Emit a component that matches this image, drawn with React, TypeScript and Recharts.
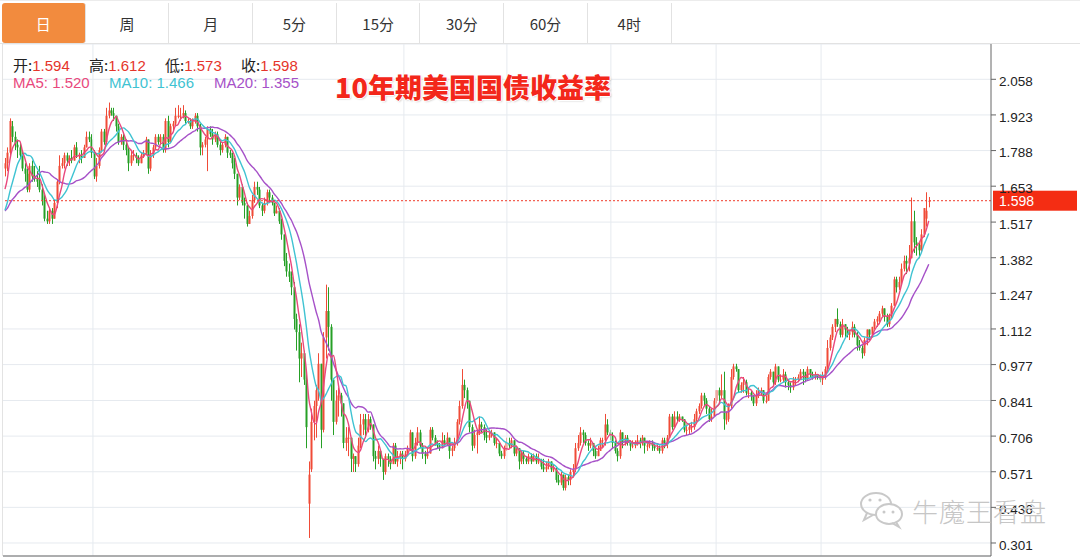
import React from 'react';
import { ComposedChart, Bar, Line, XAxis, YAxis, CartesianGrid, ReferenceLine } from 'recharts';

const tabLabels = ['日', '周', '月', '5分', '15分', '30分', '60分', '4时'];
const ohlcLabels = ['开', '高', '低', '收'];
const ohlcValues = ['1.594', '1.612', '1.573', '1.598'];
const maLegend = ['MA5: 1.520', 'MA10: 1.466', 'MA20: 1.355'];
const title = '10年期美国国债收益率';
const watermark = '牛魔王看盘';
const yTicks = [0.301, 0.436, 0.571, 0.706, 0.841, 0.977, 1.112, 1.247, 1.382, 1.517, 1.653, 1.788, 1.923, 2.058];
const lastPrice = 1.598;
const gridX = [35.6, 161.5, 203.2, 245.3, 287.9, 330.4];

// closes before the first visible candle (for moving averages)
const priorCloses = [1.58, 1.53, 1.55, 1.60, 1.55, 1.59, 1.62, 1.52, 1.54, 1.49, 1.47, 1.50, 1.50, 1.47, 1.47, 1.57, 1.55, 1.63, 1.72];

// [open, high, low, close]
const sep2019 = [
  [1.72,1.76,1.69,1.74],[1.74,1.80,1.71,1.78],[1.78,1.91,1.77,1.90],[1.88,1.90,1.82,1.84],[1.84,1.86,1.79,1.81],
  [1.81,1.83,1.76,1.80],[1.80,1.82,1.76,1.77],[1.77,1.79,1.71,1.72],[1.72,1.74,1.67,1.70],[1.70,1.72,1.63,1.64],
  [1.64,1.74,1.63,1.73],[1.73,1.75,1.67,1.69],[1.69,1.73,1.67,1.68],[1.68,1.71,1.65,1.67],
];
const oct2019 = [
  [1.67,1.73,1.63,1.64],[1.64,1.66,1.58,1.60],[1.60,1.62,1.52,1.53],[1.53,1.56,1.51,1.52],[1.52,1.57,1.51,1.56],
  [1.56,1.57,1.51,1.53],[1.53,1.60,1.53,1.59],[1.59,1.68,1.57,1.67],[1.67,1.77,1.66,1.73],[1.73,1.76,1.72,1.74],
  [1.74,1.78,1.72,1.77],[1.77,1.78,1.73,1.75],[1.75,1.77,1.73,1.76],[1.76,1.79,1.74,1.75],[1.75,1.81,1.75,1.80],
  [1.80,1.82,1.76,1.77],[1.77,1.78,1.74,1.77],[1.77,1.79,1.74,1.76],[1.76,1.81,1.76,1.80],[1.80,1.86,1.80,1.84],
  [1.84,1.86,1.82,1.83],[1.83,1.85,1.76,1.78],[1.78,1.79,1.68,1.69],
];
const nov2019 = [
  [1.69,1.76,1.67,1.73],[1.73,1.80,1.72,1.79],[1.79,1.87,1.78,1.86],[1.86,1.87,1.81,1.82],[1.82,1.95,1.81,1.92],
  [1.92,1.97,1.91,1.94],[1.94,1.95,1.92,1.93],[1.93,1.95,1.90,1.92],[1.92,1.92,1.86,1.88],[1.88,1.89,1.81,1.82],
  [1.82,1.85,1.81,1.84],[1.84,1.85,1.79,1.81],[1.81,1.83,1.77,1.79],[1.79,1.80,1.71,1.74],[1.74,1.79,1.73,1.77],
  [1.77,1.79,1.75,1.77],[1.77,1.78,1.74,1.76],[1.76,1.77,1.73,1.74],[1.74,1.78,1.74,1.77],[1.77,1.79,1.76,1.78],
];
const dec2019 = [
  [1.78,1.84,1.77,1.83],[1.83,1.83,1.70,1.72],[1.72,1.79,1.71,1.77],[1.77,1.81,1.76,1.80],[1.80,1.85,1.79,1.84],
  [1.84,1.85,1.81,1.82],[1.82,1.85,1.81,1.84],[1.84,1.85,1.78,1.79],[1.79,1.91,1.78,1.90],[1.90,1.92,1.80,1.82],
  [1.82,1.89,1.82,1.88],[1.88,1.90,1.86,1.89],[1.89,1.95,1.88,1.92],[1.92,1.96,1.91,1.92],[1.92,1.95,1.90,1.92],
  [1.92,1.96,1.91,1.93],[1.93,1.94,1.89,1.90],[1.90,1.91,1.89,1.90],[1.90,1.91,1.87,1.88],[1.88,1.91,1.87,1.90],
  [1.90,1.93,1.89,1.92],
];
const jan2020 = [
  [1.92,1.93,1.86,1.88],[1.88,1.89,1.77,1.80],[1.80,1.82,1.77,1.81],[1.81,1.84,1.80,1.83],[1.83,1.88,1.71,1.87],
  [1.87,1.88,1.84,1.85],[1.85,1.87,1.81,1.83],[1.83,1.86,1.82,1.85],[1.85,1.86,1.80,1.81],[1.81,1.82,1.77,1.79],
  [1.79,1.82,1.78,1.81],[1.81,1.85,1.80,1.84],[1.84,1.84,1.76,1.78],[1.78,1.79,1.76,1.77],[1.77,1.78,1.72,1.74],
  [1.74,1.76,1.68,1.70],[1.70,1.70,1.58,1.61],[1.61,1.66,1.60,1.65],[1.65,1.66,1.58,1.59],[1.59,1.61,1.53,1.58],
  [1.58,1.59,1.50,1.51],
];
const feb2020 = [
  [1.51,1.56,1.51,1.54],[1.54,1.62,1.53,1.60],[1.60,1.67,1.59,1.65],[1.65,1.67,1.62,1.64],[1.64,1.65,1.57,1.58],
  [1.58,1.59,1.54,1.56],[1.56,1.61,1.55,1.59],[1.59,1.64,1.58,1.63],[1.63,1.64,1.59,1.61],[1.61,1.62,1.58,1.59],
  [1.59,1.59,1.54,1.55],[1.55,1.58,1.55,1.56],[1.56,1.57,1.51,1.52],[1.52,1.53,1.45,1.47],[1.47,1.47,1.35,1.37],
  [1.37,1.40,1.31,1.33],[1.33,1.36,1.29,1.31],[1.31,1.33,1.24,1.27],[1.27,1.29,1.11,1.15],
];
const mar2020 = [
  [1.15,1.17,1.03,1.10],[1.10,1.13,0.91,1.00],[1.00,1.06,0.93,1.02],[1.02,1.03,0.90,0.92],[0.92,0.94,0.66,0.74],
  [0.45,0.61,0.32,0.56],[0.58,0.81,0.57,0.76],[0.76,0.84,0.69,0.82],[0.82,0.90,0.70,0.88],[0.88,1.02,0.84,0.98],
  [0.98,0.98,0.66,0.73],[0.73,1.10,0.72,1.08],[1.08,1.28,1.00,1.18],[1.18,1.27,1.03,1.12],[1.12,1.13,0.84,0.92],
  [0.92,0.92,0.71,0.76],[0.76,0.88,0.75,0.84],[0.84,0.89,0.78,0.86],[0.86,0.87,0.78,0.83],[0.83,0.83,0.66,0.68],
  [0.68,0.74,0.65,0.70],[0.70,0.74,0.63,0.70],
];
const apr2020 = [
  [0.70,0.70,0.57,0.62],[0.62,0.64,0.57,0.63],[0.63,0.63,0.57,0.60],[0.60,0.70,0.59,0.67],[0.67,0.79,0.66,0.75],
  [0.75,0.79,0.71,0.77],[0.77,0.79,0.70,0.73],[0.73,0.79,0.72,0.77],[0.77,0.78,0.73,0.75],[0.75,0.75,0.61,0.63],
  [0.63,0.65,0.58,0.62],[0.62,0.67,0.60,0.65],[0.65,0.65,0.59,0.62],[0.62,0.62,0.54,0.57],[0.57,0.64,0.56,0.63],
  [0.63,0.64,0.59,0.62],[0.62,0.63,0.58,0.60],[0.60,0.68,0.60,0.67],[0.67,0.68,0.60,0.61],[0.61,0.65,0.59,0.63],
  [0.63,0.65,0.60,0.64],
];
const may2020 = [
  [0.64,0.65,0.58,0.62],[0.62,0.65,0.61,0.64],[0.64,0.67,0.63,0.66],[0.66,0.73,0.65,0.72],[0.72,0.72,0.61,0.63],
  [0.63,0.70,0.62,0.68],[0.68,0.74,0.67,0.72],[0.72,0.73,0.66,0.67],[0.67,0.68,0.62,0.64],[0.64,0.65,0.60,0.63],
  [0.63,0.66,0.62,0.64],[0.64,0.74,0.64,0.73],[0.73,0.74,0.69,0.70],[0.70,0.71,0.67,0.68],[0.68,0.69,0.66,0.67],
  [0.67,0.68,0.65,0.66],[0.66,0.72,0.66,0.69],[0.69,0.71,0.67,0.68],[0.68,0.72,0.67,0.70],[0.70,0.70,0.62,0.65],
];
const jun2020 = [
  [0.65,0.67,0.63,0.66],[0.66,0.70,0.65,0.68],[0.68,0.77,0.67,0.76],[0.76,0.84,0.75,0.82],[0.82,0.96,0.81,0.90],
  [0.90,0.92,0.85,0.88],[0.88,0.89,0.81,0.84],[0.84,0.84,0.72,0.74],[0.74,0.75,0.65,0.67],[0.67,0.73,0.66,0.71],
  [0.71,0.73,0.64,0.72],[0.72,0.78,0.71,0.75],[0.75,0.76,0.72,0.74],[0.74,0.75,0.69,0.71],[0.71,0.73,0.68,0.70],
  [0.70,0.72,0.69,0.71],[0.71,0.73,0.70,0.72],[0.72,0.72,0.67,0.68],[0.68,0.70,0.66,0.68],[0.68,0.68,0.63,0.64],
  [0.64,0.65,0.62,0.63],[0.63,0.67,0.62,0.66],
];
const jul2020 = [
  [0.66,0.70,0.65,0.68],[0.68,0.70,0.66,0.67],[0.67,0.70,0.66,0.69],[0.69,0.69,0.63,0.64],[0.64,0.67,0.63,0.66],
  [0.66,0.66,0.58,0.61],[0.61,0.65,0.60,0.64],[0.64,0.65,0.60,0.62],[0.62,0.63,0.60,0.61],[0.61,0.64,0.60,0.63],
  [0.63,0.64,0.60,0.61],[0.61,0.64,0.61,0.63],[0.63,0.64,0.60,0.61],[0.61,0.64,0.60,0.61],[0.61,0.62,0.58,0.59],
  [0.59,0.62,0.57,0.58],[0.58,0.61,0.57,0.59],[0.59,0.62,0.58,0.61],[0.61,0.61,0.57,0.58],[0.58,0.60,0.57,0.58],
  [0.58,0.59,0.53,0.54],[0.54,0.56,0.52,0.53],
];
const aug2020 = [
  [0.53,0.57,0.52,0.56],[0.56,0.56,0.50,0.51],[0.51,0.56,0.50,0.55],[0.55,0.56,0.52,0.54],[0.54,0.58,0.52,0.57],
  [0.57,0.60,0.55,0.58],[0.58,0.68,0.57,0.66],[0.66,0.71,0.65,0.68],[0.68,0.74,0.67,0.72],[0.72,0.73,0.68,0.71],
  [0.71,0.72,0.67,0.68],[0.68,0.69,0.65,0.67],[0.67,0.70,0.66,0.68],[0.68,0.68,0.63,0.65],[0.65,0.66,0.62,0.63],
  [0.63,0.67,0.63,0.65],[0.65,0.70,0.65,0.69],[0.69,0.70,0.66,0.69],[0.69,0.79,0.67,0.75],[0.75,0.77,0.71,0.72],
  [0.72,0.73,0.69,0.71],
];
const sep2020 = [
  [0.71,0.72,0.66,0.68],[0.68,0.69,0.64,0.65],[0.65,0.66,0.61,0.63],[0.63,0.73,0.62,0.72],[0.72,0.72,0.66,0.68],
  [0.68,0.71,0.67,0.70],[0.70,0.71,0.67,0.68],[0.68,0.69,0.65,0.67],[0.67,0.69,0.66,0.67],[0.67,0.69,0.66,0.68],
  [0.68,0.71,0.67,0.69],[0.69,0.70,0.66,0.68],[0.68,0.71,0.67,0.70],[0.70,0.70,0.64,0.67],[0.67,0.68,0.65,0.67],
  [0.67,0.69,0.66,0.68],[0.68,0.69,0.65,0.67],[0.67,0.68,0.65,0.66],[0.66,0.68,0.65,0.66],[0.66,0.67,0.64,0.65],
  [0.65,0.70,0.64,0.69],
];
const oct2020 = [
  [0.69,0.70,0.66,0.68],[0.68,0.71,0.66,0.70],[0.70,0.79,0.70,0.78],[0.78,0.79,0.73,0.74],[0.74,0.80,0.74,0.78],
  [0.78,0.80,0.76,0.77],[0.77,0.79,0.76,0.78],[0.78,0.78,0.76,0.77],[0.77,0.77,0.72,0.73],[0.73,0.75,0.71,0.73],
  [0.73,0.75,0.71,0.74],[0.74,0.76,0.72,0.74],[0.74,0.79,0.73,0.77],[0.77,0.81,0.76,0.80],[0.80,0.83,0.79,0.82],
  [0.82,0.87,0.81,0.86],[0.86,0.87,0.82,0.84],[0.84,0.85,0.79,0.81],[0.81,0.82,0.76,0.77],[0.77,0.81,0.76,0.78],
  [0.78,0.85,0.78,0.84],[0.84,0.88,0.83,0.88],
];
const nov2020 = [
  [0.88,0.89,0.83,0.86],[0.86,0.94,0.85,0.88],[0.88,0.95,0.73,0.77],[0.77,0.80,0.75,0.77],[0.77,0.83,0.76,0.82],
  [0.82,0.96,0.81,0.93],[0.93,0.98,0.92,0.97],[0.97,0.98,0.95,0.96],[0.96,0.96,0.87,0.88],[0.88,0.91,0.87,0.90],
  [0.90,0.93,0.87,0.91],[0.91,0.92,0.86,0.87],[0.87,0.89,0.85,0.87],[0.87,0.88,0.84,0.86],[0.86,0.86,0.82,0.83],
  [0.83,0.88,0.82,0.86],[0.86,0.89,0.85,0.88],[0.88,0.89,0.86,0.88],[0.88,0.88,0.83,0.84],[0.84,0.86,0.83,0.84],
];
const dec2020 = [
  [0.84,0.94,0.84,0.93],[0.93,0.96,0.92,0.95],[0.95,0.95,0.90,0.91],[0.91,0.98,0.90,0.97],[0.97,0.97,0.91,0.92],
  [0.92,0.94,0.91,0.92],[0.92,0.96,0.91,0.94],[0.94,0.95,0.89,0.91],[0.91,0.92,0.88,0.90],[0.90,0.91,0.87,0.89],
  [0.89,0.93,0.88,0.92],[0.92,0.93,0.90,0.92],[0.92,0.94,0.91,0.93],[0.93,0.96,0.92,0.95],[0.95,0.96,0.90,0.94],
  [0.94,0.95,0.91,0.92],[0.92,0.97,0.92,0.96],[0.96,0.96,0.93,0.94],[0.94,0.95,0.92,0.93],[0.93,0.95,0.92,0.94],
  [0.94,0.94,0.92,0.93],[0.93,0.94,0.91,0.92],
];
const jan2021 = [
  [0.92,0.95,0.90,0.93],[0.93,0.97,0.92,0.96],[0.96,1.07,0.95,1.04],[1.04,1.09,1.03,1.08],[1.08,1.13,1.07,1.12],
  [1.12,1.15,1.10,1.15],[1.15,1.19,1.12,1.13],[1.13,1.14,1.08,1.09],[1.09,1.15,1.08,1.13],[1.13,1.13,1.08,1.11],
  [1.11,1.12,1.08,1.09],[1.09,1.11,1.07,1.10],[1.10,1.14,1.08,1.12],[1.12,1.13,1.08,1.09],[1.09,1.10,1.03,1.05],
  [1.05,1.07,1.03,1.04],[1.04,1.05,1.00,1.02],[1.02,1.08,1.01,1.07],[1.07,1.11,1.05,1.11],
];
const feb2021 = [
  [1.11,1.11,1.07,1.09],[1.09,1.12,1.08,1.12],[1.12,1.15,1.11,1.14],[1.14,1.16,1.12,1.15],[1.15,1.18,1.13,1.17],
  [1.17,1.20,1.16,1.19],[1.19,1.19,1.14,1.16],[1.16,1.17,1.12,1.13],[1.13,1.17,1.12,1.16],[1.16,1.21,1.15,1.20],
  [1.20,1.31,1.20,1.30],[1.30,1.31,1.25,1.27],[1.27,1.31,1.26,1.29],[1.29,1.36,1.28,1.34],[1.34,1.39,1.33,1.37],
  [1.37,1.39,1.32,1.36],[1.36,1.43,1.33,1.38],[1.38,1.61,1.38,1.52],[1.52,1.56,1.40,1.44],
];
const mar2021 = [
  [1.44,1.46,1.39,1.43],[1.43,1.44,1.38,1.41],[1.41,1.49,1.40,1.47],[1.47,1.57,1.46,1.57],[1.53,1.63,1.50,1.56],
  [1.594,1.612,1.573,1.598],
];

const months = [sep2019, oct2019, nov2019, dec2019, jan2020, feb2020, mar2020, apr2020, may2020, jun2020,
  jul2020, aug2020, sep2020, oct2020, nov2020, dec2020, jan2021, feb2021, mar2021];
const ohlc = months.flat();
const allCloses = priorCloses.concat(ohlc.map((d) => d[3]));
const P = priorCloses.length;
const movingAvg = (n: number, i: number) => {
  const end = i + P;
  const start = end - n + 1;
  if (start < 0) return null;
  let s = 0;
  for (let k = start; k <= end; k++) s += allCloses[k];
  return s / n;
};
const data = ohlc.map((d, i) => ({
  i, o: d[0], h: d[1], l: d[2], c: d[3], range: [d[2], d[1]],
  ma5: movingAvg(5, i), ma10: movingAvg(10, i), ma20: movingAvg(20, i),
}));

const RED = '#f04b37';
const GREEN = '#26a026';
const MA5C = '#e9487d';
const MA10C = '#3fc3d2';
const MA20C = '#a651c8';
const GRID = '#e6eaef';
const FONT = '"Liberation Sans", Arial, "Noto Sans CJK SC", sans-serif';
const CJK = '"Noto Sans CJK SC", "Liberation Sans", sans-serif';

const Candle = (props: any) => {
  const { x, y, width, height, payload } = props;
  if (!payload || x == null) return null;
  const { o, h, l, c } = payload;
  const top = Math.min(y, y + height);
  const span = Math.abs(height);
  const k = h > l ? span / (h - l) : 0;
  const cx = Math.round(x + width / 2) + 0.5;
  const yO = top + (h - o) * k;
  const yC = top + (h - c) * k;
  const color = c >= o ? RED : GREEN;
  const bTop = Math.min(yO, yC);
  const bH = Math.max(Math.abs(yO - yC), 1);
  return (
    <g>
      <line x1={cx} x2={cx} y1={top} y2={top + Math.max(span, 1)} stroke={color} strokeWidth={1} />
      <rect x={cx - 1} y={bTop} width={2} height={bH} fill={color} />
    </g>
  );
};

const YTick = (props: any) => {
  const { x, y, payload } = props;
  return (
    <text x={x} y={y + 2} dy="0.355em" textAnchor="start" fontSize={13.5} fill="#222" fontFamily={FONT}>
      {Number(payload.value).toFixed(3)}
    </text>
  );
};

const PriceTag = (props: any) => {
  const vb = props.viewBox || {};
  const x = (vb.x || 0) + (vb.width || 0);
  const y = vb.y || 0;
  return (
    <g>
      <rect x={x + 2} y={y - 10} width={84} height={20} fill="#f42d13" />
      <text x={x + 8} y={y + 5} fill="#fff" fontSize={14} fontFamily={FONT}>{lastPrice.toFixed(3)}</text>
    </g>
  );
};

const WeChatIcon = () => (
  <svg width={50} height={40} style={{ position: 'absolute', left: 858, top: 490 }}>
    <ellipse cx={18} cy={14} rx={15} ry={11} fill="none" stroke="#c9c9c9" strokeWidth={2} />
    <path d="M9 23 L6 30 L15 25" fill="none" stroke="#c9c9c9" strokeWidth={2} />
    <ellipse cx={31} cy={24} rx={13} ry={10} fill="#fff" stroke="#c9c9c9" strokeWidth={2} />
    <path d="M38 32 L41 37 L34 33" fill="none" stroke="#c9c9c9" strokeWidth={2} />
    <circle cx={12} cy={10} r={1.6} fill="#c9c9c9" />
    <circle cx={22} cy={10} r={1.6} fill="#c9c9c9" />
    <circle cx={26} cy={22} r={1.5} fill="#c9c9c9" />
    <circle cx={35} cy={22} r={1.5} fill="#c9c9c9" />
  </svg>
);

export default function App() {
  return (
    <div style={{ position: 'absolute', left: 0, top: 0, width: 1080, height: 558, background: '#fff', overflow: 'hidden', fontFamily: FONT }}>
      <div style={{ position: 'absolute', left: 2, top: 44, width: 1, height: 512, background: '#e3e3e3' }} />
      <ComposedChart width={1080} height={558} data={data} margin={{ top: 44, right: 0, bottom: 0, left: 3 }}>
        <CartesianGrid vertical={false} stroke={GRID} />
        {gridX.map((gx) => (
          <ReferenceLine key={gx} x={gx} stroke={GRID} />
        ))}
        <XAxis dataKey="i" type="number" domain={[-0.81, 399.2]} allowDataOverflow tick={false} tickLine={false} height={2} axisLine={{ stroke: '#666' }} />
        <YAxis orientation="right" width={89} domain={[0.2517, 2.1918]} ticks={yTicks} allowDataOverflow
          tick={<YTick />} tickSize={5} tickMargin={3} tickLine={{ stroke: '#666' }} axisLine={{ stroke: '#666' }} />
        <Bar dataKey="range" barSize={2} shape={<Candle />} isAnimationActive={false} />
        <Line dataKey="ma20" stroke={MA20C} strokeWidth={1.4} dot={false} type="monotone" isAnimationActive={false} />
        <Line dataKey="ma10" stroke={MA10C} strokeWidth={1.4} dot={false} type="monotone" isAnimationActive={false} />
        <Line dataKey="ma5" stroke={MA5C} strokeWidth={1.4} dot={false} type="monotone" isAnimationActive={false} />
        <ReferenceLine y={lastPrice} stroke="#f03a2a" strokeDasharray="2 2" label={<PriceTag />} />
      </ComposedChart>

      {/* tabs */}
      <div style={{ position: 'absolute', left: 0, top: 0, width: 1080, height: 44, borderBottom: '1px solid #e2e2e2', borderTop: '1px solid #ececec', boxSizing: 'border-box', background: '#fff' }}>
        {tabLabels.map((t, k) => (
          <div key={t} style={{
            position: 'absolute', left: 2 + k * 83.7, top: 2, width: 83.7, height: 40, boxSizing: 'border-box',
            borderRight: '1px solid #e2e2e2', background: k === 0 ? '#f28b3e' : 'transparent',
            color: k === 0 ? '#fff' : '#333', borderRadius: k === 0 ? 3 : 0,
            display: 'flex', alignItems: 'center', justifyContent: 'center', fontSize: 15, fontFamily: CJK,
          }}>{t}</div>
        ))}
      </div>

      {/* OHLC header */}
      {ohlcLabels.map((lab, k) => (
        <div key={lab} style={{ position: 'absolute', left: 13 + k * 76, top: 55, fontSize: 15, lineHeight: '20px', whiteSpace: 'nowrap' }}>
          <span style={{ color: '#222', fontFamily: CJK }}>{lab}:</span>
          <span style={{ color: '#e5352b', fontFamily: FONT }}>{ohlcValues[k]}</span>
        </div>
      ))}
      {maLegend.map((m, k) => (
        <div key={m} style={{ position: 'absolute', left: [13, 109, 214][k], top: 73, fontSize: 15, lineHeight: '20px', whiteSpace: 'nowrap', color: [MA5C, MA10C, MA20C][k] }}>{m}</div>
      ))}

      {/* title */}
      <div style={{
        position: 'absolute', left: 335, top: 72, fontSize: 27, lineHeight: '30px', fontWeight: 900, color: '#f3271b',
        fontFamily: CJK, letterSpacing: 0, whiteSpace: 'nowrap',
        textShadow: '1px 0 0 #fff, -1px 0 0 #fff, 0 1px 0 #fff, 0 -1px 0 #fff, 1px 1px 2px rgba(0,0,0,0.25)',
      }}>{title}</div>

      {/* watermark */}
      <WeChatIcon />
      <div style={{ position: 'absolute', left: 912, top: 494, fontSize: 26, lineHeight: '34px', color: '#c6c6c6', fontFamily: CJK, fontWeight: 300, whiteSpace: 'nowrap', letterSpacing: 1 }}>{watermark}</div>
    </div>
  );
}
